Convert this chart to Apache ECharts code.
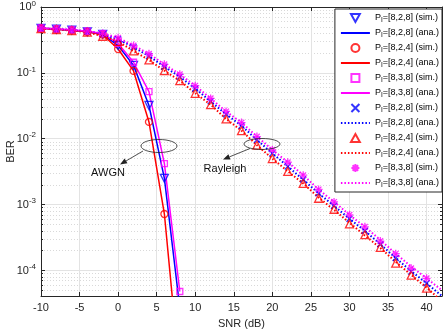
<!DOCTYPE html>
<html>
<head>
<meta charset="utf-8">
<script src="https://cdn.jsdelivr.net/npm/echarts@6/dist/echarts.min.js"></script>
<style>html,body{margin:0;padding:0;background:#fff}#chart{width:443px;height:332px}</style>
</head>
<body>
<div id="chart"></div>
<script>
var font = 'Liberation Sans';

// AWGN, simulated every 2 dB
var snrAwgn = [-10, -8, -6, -4, -2, 0, 2, 4, 6, 8];
var awgn828Sim = [0.475, 0.46, 0.445, 0.42, 0.385, 0.26, 0.13, 0.032, 0.0025, null];
var awgn824Sim = [0.475, 0.46, 0.445, 0.42, 0.38, 0.23, 0.107, 0.018, 0.00072, null];
var awgn838Sim = [0.48, 0.465, 0.45, 0.43, 0.395, 0.28, 0.145, 0.052, 0.0042, 0.000048];
// AWGN, analytic
var awgn828Ana = [0.475, 0.46, 0.445, 0.42, 0.385, 0.26, 0.13, 0.032, 0.0025, 0.000027];
var awgn824Ana = [0.475, 0.46, 0.445, 0.42, 0.38, 0.23, 0.107, 0.018, 0.00072, 0.0000025];
var awgn838Ana = [0.48, 0.465, 0.45, 0.43, 0.395, 0.28, 0.145, 0.052, 0.0042, 0.000048];

// Rayleigh
var snrRay = [-10, -8, -6, -4, -2, 0, 2, 4, 6, 8, 10, 12, 14, 16, 18, 20, 22, 24, 26, 28, 30, 32, 34, 36, 38, 40];
var ray828Sim = [0.475, 0.46, 0.445, 0.425, 0.385, 0.325, 0.245, 0.18, 0.124, 0.087, 0.058, 0.037, 0.0235, 0.0158, 0.0096, 0.006, 0.0038, 0.0024, 0.00148, 0.00096, 0.00061, 0.0004, 0.00025, 0.000155, 0.000096, 0.000064];
var ray824Sim = [0.47, 0.455, 0.44, 0.415, 0.36, 0.30, 0.215, 0.157, 0.108, 0.076, 0.049, 0.033, 0.020, 0.0133, 0.008, 0.005, 0.0032, 0.0021, 0.00125, 0.00085, 0.00051, 0.00035, 0.000225, 0.000129, 0.000085, 0.000054];
var ray838Sim = [0.48, 0.465, 0.45, 0.43, 0.40, 0.34, 0.26, 0.195, 0.135, 0.095, 0.064, 0.041, 0.026, 0.0176, 0.0108, 0.0068, 0.0044, 0.0028, 0.0017, 0.0011, 0.0007, 0.00046, 0.00028, 0.00018, 0.000108, 0.000076];
var snrRayAna = snrRay.concat([42]);
var ray828Ana = [0.475, 0.46, 0.445, 0.425, 0.385, 0.325, 0.245, 0.18, 0.124, 0.087, 0.058, 0.037, 0.0235, 0.0158, 0.0096, 0.006, 0.0038, 0.0024, 0.00148, 0.00096, 0.00061, 0.0004, 0.00025, 0.000155, 0.000098, 0.000064, 0.000041];
var ray824Ana = [0.47, 0.455, 0.44, 0.415, 0.36, 0.30, 0.215, 0.157, 0.108, 0.076, 0.049, 0.033, 0.020, 0.0133, 0.008, 0.005, 0.0032, 0.0021, 0.00128, 0.00083, 0.00053, 0.00034, 0.00022, 0.000135, 0.000086, 0.000055, 0.000034];
var ray838Ana = [0.48, 0.465, 0.45, 0.43, 0.40, 0.34, 0.26, 0.195, 0.135, 0.095, 0.064, 0.041, 0.026, 0.0176, 0.0108, 0.0068, 0.0044, 0.0028, 0.0017, 0.0011, 0.0007, 0.00046, 0.00029, 0.00018, 0.000115, 0.000076, 0.00005];

var xMin = -10, xMax = 42, yMin = 0.000041, yMax = 1;

var legendText = {
  awgn828sim: ['8,2,8', 'sim.'], awgn828ana: ['8,2,8', 'ana.'],
  awgn824sim: ['8,2,4', 'sim.'], awgn824ana: ['8,2,4', 'ana.'],
  awgn838sim: ['8,3,8', 'sim.'], awgn838ana: ['8,3,8', 'ana.'],
  ray828sim: ['8,2,8', 'sim.'], ray828ana: ['8,2,8', 'ana.'],
  ray824sim: ['8,2,4', 'sim.'], ray824ana: ['8,2,4', 'ana.'],
  ray838sim: ['8,3,8', 'sim.'], ray838ana: ['8,3,8', 'ana.']
};

function pairs(xs, ys) {
  var out = [];
  for (var i = 0; i < xs.length; i++) {
    if (ys[i] != null) out.push([xs[i], ys[i]]);
  }
  return out;
}

var triDown = 'path://M0,0L10,0L5,9Z';
var triUp = 'path://M5,0L10,9L0,9Z';
var circ = 'path://M0,5A5,5 0 1,1 10,5A5,5 0 1,1 0,5Z';
var sq = 'path://M0,0L10,0L10,10L0,10Z';
var xPath = 'path://M0,0L10,10M10,0L0,10';
var starPath = 'path://M5,0L5,10M0,5L10,5M1.5,1.5L8.5,8.5M8.5,1.5L1.5,8.5';

function simSeries(name, xs, ys, color, symbol, size) {
  return {
    name: name, type: 'scatter', data: pairs(xs, ys),
    symbol: symbol, symbolSize: size,
    itemStyle: { color: 'rgba(0,0,0,0)', borderColor: color, borderWidth: 1.3 },
    z: 3
  };
}
function anaSeries(name, xs, ys, color, dash) {
  return {
    name: name, type: 'line', data: pairs(xs, ys), symbol: 'none',
    lineStyle: { color: color, width: dash ? 2 : 1.5, type: dash ? [1.5, 2] : 'solid' },
    itemStyle: { color: color },
    z: 2
  };
}

var chart = echarts.init(document.getElementById('chart'));

var axisColor = '#262626';
var legendData = Object.keys(legendText).map(function (n) {
  return /ana$/.test(n) ? { name: n, itemStyle: { opacity: 0 } } : { name: n };
});

var option = {
  animation: false,
  grid: { left: 41, right: 1, top: 7, bottom: 36, outerBoundsMode: 'none' },
  legend: {
    orient: 'vertical', right: 1, top: 9,
    data: legendData,
    itemWidth: 29, itemHeight: 8, itemGap: 3,
    padding: [3, 3, 3, 5],
    backgroundColor: '#fff', borderColor: axisColor, borderWidth: 1,
    formatter: function (name) {
      var t = legendText[name];
      return '{a|P}{s|I}{a|=[' + t[0] + '] (' + t[1] + ')}';
    },
    textStyle: {
      rich: {
        a: { fontSize: 9, fontFamily: font, color: '#000', lineHeight: 12 },
        s: { fontSize: 6.5, fontFamily: font, color: '#000', lineHeight: 12, padding: [5, 0, 0, 0] }
      }
    }
  },
  xAxis: [{
    type: 'value', min: xMin, max: xMax, interval: 5,
    name: 'SNR (dB)', nameLocation: 'middle', nameGap: 22,
    nameTextStyle: { fontFamily: font, fontSize: 11, color: axisColor },
    axisLine: { onZero: false, lineStyle: { color: axisColor } },
    axisTick: { inside: true, length: 4, lineStyle: { color: axisColor } },
    axisLabel: { fontFamily: font, fontSize: 11, color: axisColor, margin: 6, showMaxLabel: false },
    splitLine: { lineStyle: { color: '#e3e3e3' } }
  }, {
    type: 'value', min: xMin, max: xMax, interval: 5, position: 'top',
    axisLine: { onZero: false, lineStyle: { color: axisColor } },
    axisTick: { inside: true, length: 4, lineStyle: { color: axisColor } },
    axisLabel: { show: false }, splitLine: { show: false }
  }],
  yAxis: [{
    type: 'log', logBase: 10, min: yMin, max: yMax,
    name: 'BER', nameLocation: 'middle', nameGap: 25, nameMoveOverlap: false,
    nameTextStyle: { fontFamily: font, fontSize: 11, color: axisColor },
    axisLine: { onZero: false, lineStyle: { color: axisColor } },
    axisTick: { inside: true, length: 4, lineStyle: { color: axisColor } },
    minorTick: { show: true, splitNumber: 9, length: 2, lineStyle: { color: axisColor } },
    minorSplitLine: { show: true, lineStyle: { color: '#d9d9d9', type: [1, 2] } },
    axisLabel: {
      showMinLabel: false, margin: 5,
      formatter: function (v) {
        var e = Math.log10(v);
        if (Math.abs(e - Math.round(e)) > 1e-6) return '';
        return '{b|10}{e|' + Math.round(e) + '}';
      },
      rich: {
        b: { fontFamily: font, fontSize: 11, color: axisColor },
        e: { fontFamily: font, fontSize: 8, color: axisColor, padding: [0, 0, 7, 0] }
      }
    },
    splitLine: { lineStyle: { color: '#e3e3e3' } }
  }, {
    type: 'log', logBase: 10, min: yMin, max: yMax, position: 'right',
    axisLine: { onZero: false, lineStyle: { color: axisColor } },
    axisTick: { inside: true, length: 4, lineStyle: { color: axisColor } },
    minorTick: { show: true, splitNumber: 9, length: 2, lineStyle: { color: axisColor } },
    axisLabel: { show: false }, splitLine: { show: false }
  }],
  series: [
    simSeries('awgn828sim', snrAwgn, awgn828Sim, '#0000ff', triDown, 8),
    anaSeries('awgn828ana', snrAwgn, awgn828Ana, '#0000ff', false),
    simSeries('awgn824sim', snrAwgn, awgn824Sim, '#ff0000', circ, 7),
    anaSeries('awgn824ana', snrAwgn, awgn824Ana, '#ff0000', false),
    simSeries('awgn838sim', snrAwgn, awgn838Sim, '#ff00ff', sq, 6),
    anaSeries('awgn838ana', snrAwgn, awgn838Ana, '#ff00ff', false),
    simSeries('ray828sim', snrRay, ray828Sim, '#0000ff', xPath, 6),
    anaSeries('ray828ana', snrRayAna, ray828Ana, '#0000ff', true),
    simSeries('ray824sim', snrRay, ray824Sim, '#ff0000', triUp, 8),
    anaSeries('ray824ana', snrRayAna, ray824Ana, '#ff0000', true),
    simSeries('ray838sim', snrRay, ray838Sim, '#ff00ff', starPath, 8),
    anaSeries('ray838ana', snrRayAna, ray838Ana, '#ff00ff', true)
  ]
};
chart.setOption(option);

// annotations: ellipse + arrow + label
function arrow(x1, y1, x2, y2) {
  var dx = x2 - x1, dy = y2 - y1, len = Math.sqrt(dx * dx + dy * dy);
  var ux = dx / len, uy = dy / len, hl = 7, hw = 2.8;
  var bx = x2 - ux * hl, by = y2 - uy * hl;
  return [
    { type: 'line', shape: { x1: x1, y1: y1, x2: bx, y2: by }, style: { stroke: '#222', lineWidth: 0.8 }, z: 10 },
    { type: 'polygon', shape: { points: [[x2, y2], [bx - uy * hw, by + ux * hw], [bx + uy * hw, by - ux * hw]] }, style: { fill: '#222' }, z: 10 }
  ];
}
var g = [
  { type: 'ellipse', shape: { cx: 159, cy: 146, rx: 18, ry: 6.5 }, style: { fill: 'none', stroke: '#222', lineWidth: 0.8 }, z: 10 },
  { type: 'ellipse', shape: { cx: 262, cy: 144, rx: 18, ry: 5.5 }, style: { fill: 'none', stroke: '#222', lineWidth: 0.8 }, z: 10 },
  { type: 'text', x: 108, y: 173, style: { text: 'AWGN', font: '11px "Liberation Sans"', fill: '#111', align: 'center', verticalAlign: 'middle' }, z: 10 },
  { type: 'text', x: 225, y: 169, style: { text: 'Rayleigh', font: '11px "Liberation Sans"', fill: '#111', align: 'center', verticalAlign: 'middle' }, z: 10 }
].concat(arrow(143, 151, 120, 164.5), arrow(250, 148.5, 223, 159.5));
chart.setOption({ graphic: g });
</script>
</body>
</html>
